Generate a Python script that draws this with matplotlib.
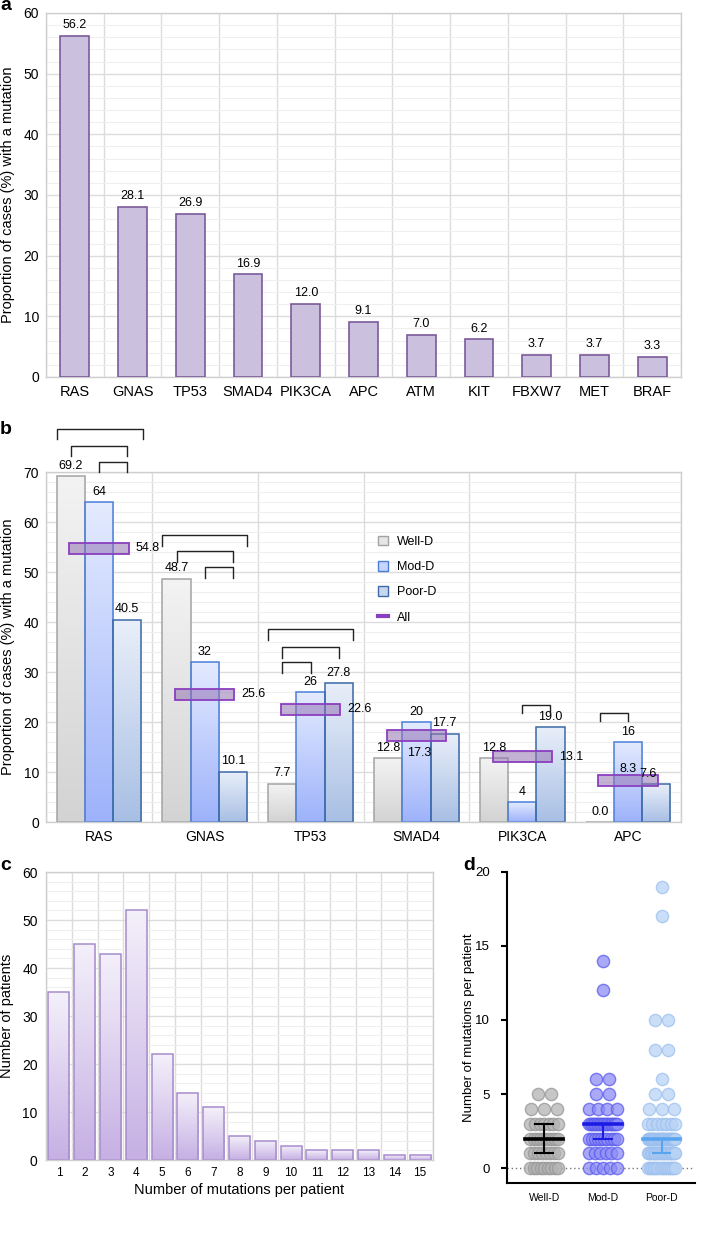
import numpy as np
import matplotlib
matplotlib.use("Agg")
import matplotlib.pyplot as plt
from matplotlib.colors import LinearSegmentedColormap
from matplotlib.patches import Patch
from matplotlib.lines import Line2D

plt.rcParams['font.family'] = ['Liberation Sans', 'DejaVu Sans']

# ---------------- data ----------------
a_genes = ["RAS", "GNAS", "TP53", "SMAD4", "PIK3CA", "APC", "ATM", "KIT", "FBXW7", "MET", "BRAF"]
a_values = [56.2, 28.1, 26.9, 16.9, 12.0, 9.1, 7.0, 6.2, 3.7, 3.7, 3.3]
a_labels = ["56.2", "28.1", "26.9", "16.9", "12.0", "9.1", "7.0", "6.2", "3.7", "3.7", "3.3"]

b_genes = ["RAS", "GNAS", "TP53", "SMAD4", "PIK3CA", "APC"]
b_series = ["Well-D", "Mod-D", "Poor-D"]
b_well = [69.2, 48.7, 7.7, 12.8, 12.8, 0.0]
b_mod = [64, 32, 26, 20, 4, 16]
b_poor = [40.5, 10.1, 27.8, 17.7, 19.0, 7.6]
b_all = [54.8, 25.6, 22.6, 17.3, 13.1, 8.3]
b_well_lbl = ["69.2", "48.7", "7.7", "12.8", "12.8", "0.0"]
b_mod_lbl = ["64", "32", "26", "20", "4", "16"]
b_poor_lbl = ["40.5", "10.1", "27.8", "17.7", "19.0", "7.6"]
b_all_lbl = ["54.8", "25.6", "22.6", "17.3", "13.1", "8.3"]
# significance brackets: group, from, to (bar slots relative to group centre), height
br_group = [0, 0, 0, 1, 1, 1, 2, 2, 2, 4, 5]
br_from = [-1.5, -1, 0, -1.5, -1, 0, -1.5, -1, -1, 0, -1]
br_to = [1.55, 1, 1, 1.5, 1, 1, 1.5, 1, 0, 1, 0]
br_y = [78.6, 75.2, 72.0, 57.4, 54.2, 51.0, 38.6, 35.0, 32.0, 23.4, 21.8]

c_n = list(range(1, 16))
c_counts = [35, 45, 43, 52, 22, 14, 11, 5, 4, 3, 2, 2, 2, 1, 1]

d_groups = ["Well-D", "Mod-D", "Poor-D"]
d_vals_well = [0, 1, 2, 3, 4, 5]
d_cnt_well = [9, 8, 10, 7, 3, 2]
d_vals_mod = [0, 1, 2, 3, 4, 5, 6, 12, 14]
d_cnt_mod = [5, 6, 10, 19, 4, 2, 2, 1, 1]
d_vals_poor = [0, 1, 2, 3, 4, 5, 6, 8, 10, 17, 19]
d_cnt_poor = [14, 20, 26, 7, 3, 2, 1, 2, 2, 1, 1]
d_median = [2, 3, 2]
d_q1 = [1, 2, 1]
d_q3 = [3, 3, 2]

# ---------------- figure ----------------
W, H = 702, 1257
fig = plt.figure(figsize=(W / 100, H / 100), dpi=100)


def ax_px(l, t, r, b):
    return fig.add_axes([l / W, 1 - b / H, (r - l) / W, (b - t) / H])


GRID_MAJ = "#dcdcdc"
GRID_MIN = "#efefef"
SPINE = "#cfcfcf"


def style_grid(ax, ncat, x0, ymax, ystep=10, ymin_step=2):
    ax.set_yticks(np.arange(0, ymax + 0.1, ystep))
    ax.set_yticks(np.arange(0, ymax + 0.1, ymin_step), minor=True)
    ax.set_xticks(np.arange(ncat + 1) + x0 - 0.5, minor=True)
    ax.yaxis.grid(True, which='major', color=GRID_MAJ, lw=1.0)
    ax.yaxis.grid(True, which='minor', color=GRID_MIN, lw=0.8)
    ax.xaxis.grid(True, which='minor', color=GRID_MAJ, lw=1.0)
    ax.xaxis.grid(False, which='major')
    ax.set_axisbelow(True)
    ax.tick_params(which='both', length=0)
    for s in ax.spines.values():
        s.set_color(SPINE)
        s.set_linewidth(1.0)


def gradient_bar(ax, x, h, w, ctop, cbot, edge, lw=1.0, bottom=0, z=2):
    patch = ax.bar(x, h, w, bottom=bottom, facecolor='none', edgecolor=edge, linewidth=lw, zorder=z + 0.2)[0]
    cmap = LinearSegmentedColormap.from_list('g', [cbot, ctop])
    grad = np.linspace(0, 1, 128).reshape(-1, 1)
    if h > 0:
        im = ax.imshow(grad, extent=[x - w / 2, x + w / 2, bottom, bottom + h], origin='lower',
                       aspect='auto', cmap=cmap, zorder=z, interpolation='bilinear')
        im.set_clip_path(patch)
    return patch


# ---------------- panel a ----------------
axa = ax_px(46, 13, 681, 377)
xa = np.arange(len(a_genes))
axa.bar(xa, a_values, 0.5, color="#cbc0de", edgecolor="#7a5b99", linewidth=1.2, zorder=3)
for x, v, t in zip(xa, a_values, a_labels):
    axa.annotate(t, (x, v), xytext=(0, 3.5), textcoords='offset points', ha='center', va='bottom', fontsize=9)
axa.set_xlim(-0.5, len(a_genes) - 0.5)
axa.set_ylim(0, 60)
style_grid(axa, len(a_genes), 0, 60)
axa.set_xticks(xa)
axa.set_xticklabels(a_genes, fontsize=10.5)
axa.tick_params(axis='y', labelsize=10, pad=5)
axa.tick_params(axis='x', pad=6)
axa.set_ylabel("Proportion of cases (%) with a mutation", fontsize=10.5)
axa.yaxis.set_label_coords((15 - 46) / 635, 0.5)

# ---------------- panel b ----------------
axb = ax_px(46, 472, 681, 822)
xb = np.arange(len(b_genes))
w = 0.8 / 3
cols = [("#f3f3f3", "#d3d3d3", "#a3a3a3"),
        ("#e4ebff", "#9db2fa", "#4a7fd8"),
        ("#e9eff9", "#a8bfe4", "#3b6aa6")]
series_vals = [b_well, b_mod, b_poor]
series_lbls = [b_well_lbl, b_mod_lbl, b_poor_lbl]
for si, (vals, lbls) in enumerate(zip(series_vals, series_lbls)):
    ctop, cbot, ced = cols[si]
    for gi, v in enumerate(vals):
        x = xb[gi] + (si - 1) * w
        gradient_bar(axb, x, v, w, ctop, cbot, ced, lw=1.1)
        dx = -6 if (si == 2 and gi == 5) else 0
        axb.annotate(lbls[gi], (x, v), xytext=(dx, 3), textcoords='offset points',
                     ha='center', va='bottom', fontsize=9, zorder=6)
# All rectangles
rect_w = 0.56
rect_h = 2.2
axb.bar(xb, [rect_h] * len(xb), rect_w, bottom=np.array(b_all) - rect_h / 2,
        facecolor=(0.58, 0.45, 0.70, 0.55), edgecolor="#8a3fbf", linewidth=1.3, zorder=5)
for gi, (v, t) in enumerate(zip(b_all, b_all_lbl)):
    if gi == 3:
        axb.annotate(t, (xb[gi] + 0.03, v - rect_h / 2), xytext=(0, -4), textcoords='offset points',
                     ha='center', va='top', fontsize=9, zorder=6)
    elif gi == 5:
        axb.annotate(t, (xb[gi], v + rect_h / 2), xytext=(0, 0), textcoords='offset points',
                     ha='center', va='bottom', fontsize=9, zorder=6)
    else:
        axb.annotate(t, (xb[gi] + rect_w / 2, v), xytext=(5, 0), textcoords='offset points',
                     ha='left', va='center', fontsize=9, zorder=6)
# brackets
leg = 2.1
for g, f, t, y in zip(br_group, br_from, br_to, br_y):
    x1 = xb[g] + f * w
    x2 = xb[g] + t * w
    l = 1.6 if y < 25 else leg
    axb.plot([x1, x1, x2, x2], [y - l, y, y, y - l], color="#222222", lw=1.0, clip_on=False, zorder=7)
axb.set_xlim(-0.5, len(b_genes) - 0.5)
axb.set_ylim(0, 70)
style_grid(axb, len(b_genes), 0, 70)
axb.set_xticks(xb)
axb.set_xticklabels(b_genes, fontsize=10)
axb.tick_params(axis='y', labelsize=10, pad=5)
axb.tick_params(axis='x', pad=6)
axb.set_ylabel("Proportion of cases (%) with a mutation", fontsize=10.5)
axb.yaxis.set_label_coords((15 - 46) / 635, 0.5)
handles = [Patch(facecolor="#e6e6e6", edgecolor="#a3a3a3", label="Well-D"),
           Patch(facecolor="#c7d4ff", edgecolor="#4a7fd8", label="Mod-D"),
           Patch(facecolor="#c9d7ee", edgecolor="#3b6aa6", label="Poor-D"),
           Line2D([0], [0], color="#8a3fbf", lw=3, label="All")]
axb.legend(handles=handles, loc='upper left', bbox_to_anchor=(0.505, 0.85), frameon=False,
           fontsize=9, handlelength=0.8, handleheight=0.8, labelspacing=1.05, handletextpad=0.7)

# ---------------- panel c ----------------
axc = ax_px(46, 872, 433, 1160)
for n, cnt in zip(c_n, c_counts):
    gradient_bar(axc, n, cnt, 0.82, "#f4f0fa", "#c6b0e4", "#a68ccc", lw=1.1)
axc.set_xlim(0.5, 15.5)
axc.set_ylim(0, 60)
style_grid(axc, 15, 1, 60)
axc.set_xticks(c_n)
axc.set_xticklabels([str(n) for n in c_n], fontsize=8.5)
axc.tick_params(axis='y', labelsize=10, pad=6)
axc.tick_params(axis='x', pad=5)
axc.set_xlabel("Number of mutations per patient", fontsize=10.5, labelpad=3)
axc.set_ylabel("Number of patients", fontsize=10.5)
axc.yaxis.set_label_coords((14 - 46) / 387, 0.5)

# ---------------- panel d ----------------
axd = ax_px(506.7, 871.7, 695, 1183)
d_vals = [d_vals_well, d_vals_mod, d_vals_poor]
d_cnts = [d_cnt_well, d_cnt_mod, d_cnt_poor]
d_face = ["#b3b3b3", "#8d8df6", "#b9d3f5"]
d_edge = ["#969696", "#5a5aee", "#9dc0ef"]
d_line = ["#000000", "#1c1ce6", "#58a4f0"]
spacing = 0.22
maxspan = 0.47
for gi in range(3):
    xs, ys = [], []
    for v, c in zip(d_vals[gi], d_cnts[gi]):
        span = min((c - 1) * spacing, maxspan)
        offs = np.linspace(-span / 2, span / 2, c) if c > 1 else np.array([0.0])
        xs.extend(gi + offs)
        ys.extend([v] * c)
    axd.scatter(xs, ys, s=78, facecolor=d_face[gi], edgecolor=d_edge[gi], linewidth=1.0,
                alpha=0.75, zorder=3, clip_on=False)
    lc = d_line[gi]
    axd.plot([gi - 0.32, gi + 0.32], [d_median[gi]] * 2, color=lc, lw=2.6, zorder=5)
    axd.plot([gi, gi], [d_q1[gi], d_q3[gi]], color=lc, lw=1.5, zorder=5)
    for q in (d_q1[gi], d_q3[gi]):
        if q != d_median[gi]:
            axd.plot([gi - 0.15, gi + 0.15], [q, q], color=lc, lw=1.5, zorder=5)
axd.axhline(0, color="#777777", lw=1.0, ls=(0, (1, 2)), zorder=1)
axd.set_xlim(-0.64, 2.57)
axd.set_ylim(-1, 20)
axd.set_yticks([0, 5, 10, 15, 20])
axd.set_xticks([0, 1, 2])
axd.set_xticklabels(d_groups, fontsize=7.5)
axd.spines['top'].set_visible(False)
axd.spines['right'].set_visible(False)
axd.spines['left'].set_linewidth(1.5)
axd.spines['bottom'].set_linewidth(1.5)
axd.tick_params(axis='y', labelsize=9.5, length=4, width=1.5, pad=8)
axd.tick_params(axis='x', length=0, pad=7)
axd.set_ylabel("Number of mutations per patient", fontsize=9.5)
axd.yaxis.set_label_coords((475 - 506.7) / 188.3, 0.5)

# ---------------- panel letters ----------------
for lbl, x, y in [("a", 0, 6), ("b", 0, 430), ("c", 0, 866), ("d", 463, 866)]:
    fig.text(x / W, 1 - y / H, lbl, fontsize=14, fontweight='bold', ha='left', va='center')

fig.savefig("out.png", dpi=100)
